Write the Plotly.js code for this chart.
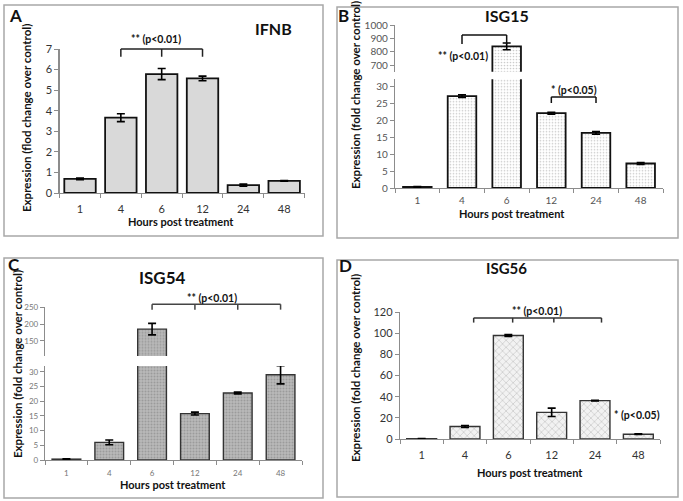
<!DOCTYPE html>
<html>
<head>
<meta charset="utf-8">
<script src="https://cdn.plot.ly/plotly-3.0.1.min.js"></script>
<style>html,body{margin:0;padding:0;background:#fff;}#chart{width:683px;height:501px;}</style>
</head>
<body>
<div id="chart"></div>
<script>
// ---------- data ----------
var hours = ['1', '4', '6', '12', '24', '48'];
var ifnb = [0.69, 3.66, 5.78, 5.57, 0.38, 0.59];
var ifnbErr = [0.04, 0.19, 0.27, 0.11, 0.05, 0.02];
var isg15 = [0.3, 27.0, 840, 22.0, 16.2, 7.2];
var isg15Err = [0.15, 0.4, 25, 0.3, 0.4, 0.3];
var isg54 = [0.3, 6.0, 185, 15.8, 22.8, 29.0];
var isg54Err = [0.1, 0.8, 17, 0.5, 0.3, 3.1];
var isg56 = [0.3, 11.8, 97.8, 25.2, 36.3, 4.5];
var isg56Err = [0.2, 1.0, 0.8, 4.0, 0.3, 0.3];

// ---------- helpers ----------
var FONT = 'Lato, "Open Sans", "DejaVu Sans", sans-serif';
var idx = hours.map(function (h, i) { return i; });

function barTrace(vals, errs, xa, ya, width, marker, errColor) {
  return {
    type: 'bar', x: idx, y: vals, xaxis: xa, yaxis: ya, width: width,
    marker: marker, hoverinfo: 'skip',
    error_y: { type: 'data', array: errs, visible: true, color: errColor || '#000', thickness: 1.6, width: 4 }
  };
}
function xAxis(dom, anchor, fs, col, tl) {
  return {
    domain: dom, anchor: anchor, range: [-0.5, 5.5], tickmode: 'array', tickvals: idx, ticktext: hours,
    ticks: 'outside', ticklen: tl, tickcolor: 'rgba(0,0,0,0)', showgrid: false, zeroline: false,
    showline: true, linecolor: '#8c8c8c', linewidth: 1.2, fixedrange: true,
    tickfont: { family: FONT, size: fs, color: col },
    minor: { tickmode: 'linear', tick0: -0.5, dtick: 1, ticks: 'outside', ticklen: 4, tickcolor: '#8c8c8c', tickwidth: 1 }
  };
}
function yAxis(dom, anchor, range, tickvals, fs, col) {
  return {
    domain: dom, anchor: anchor, range: range, tickmode: 'array', tickvals: tickvals,
    ticks: 'outside', ticklen: 4, tickcolor: '#8c8c8c', showgrid: false, zeroline: false,
    showline: true, linecolor: '#8c8c8c', linewidth: 1.2, fixedrange: true,
    tickfont: { family: FONT, size: fs, color: col }
  };
}
function frac(v, r) { return (v - r[0]) / (r[1] - r[0]); }
function bracket(xref, yref, range, xs, yLine, yTick, color) {
  var out = [];
  var yL = frac(yLine, range), yT = frac(yTick, range);
  var ln = { color: color, width: 1.5 };
  out.push({ type: 'line', xref: xref, yref: yref + ' domain', x0: xs[0], x1: xs[xs.length - 1], y0: yL, y1: yL, line: ln });
  xs.forEach(function (x) {
    out.push({ type: 'line', xref: xref, yref: yref + ' domain', x0: x, x1: x, y0: yL, y1: yT, line: ln });
  });
  return out;
}
function sig(text, xref, yref, range, x, y, xanchor) {
  return { text: '<b>' + text + '</b>', xref: xref, yref: yref + ' domain', x: x, y: frac(y, range),
    xanchor: xanchor || 'center', yanchor: 'middle', showarrow: false,
    font: { family: FONT, size: 10.5, color: '#111' } };
}
function ann(text, x, y, size, opts) {
  var a = { text: text, x: x, y: y, xref: 'paper', yref: 'paper', showarrow: false,
    xanchor: 'center', yanchor: 'middle', font: { family: FONT, size: size, color: '#111' } };
  for (var k in opts) a[k] = opts[k];
  return a;
}
function px(x) { return x / 683; }
function py(y) { return 1 - y / 501; }

// ---------- ranges ----------
var rA = [0, 7];
var rBlo = [0, 32], rBhi = [650, 1000];
var rClo = [0, 32], rChi = [105, 250];
var rD = [0, 120];

// ---------- traces ----------
var mA = { color: '#d9d9d9', line: { color: '#111', width: 1.8 } };
var mB = { color: '#ffffff', line: { color: '#111', width: 1.8 },
  pattern: { shape: '.', fgcolor: '#9a9a9a', bgcolor: '#ffffff', size: 3, solidity: 0.25, fillmode: 'overlay' } };
var mC = { color: '#b5b5b5', line: { color: '#333', width: 1.4 },
  pattern: { shape: '.', fgcolor: '#7d7d7d', bgcolor: '#b9b9b9', size: 3, solidity: 0.35, fillmode: 'overlay' } };
var mD = { color: '#eeeeee', line: { color: '#333', width: 1.4 },
  pattern: { shape: 'x', fgcolor: '#9a9a9a', bgcolor: '#f2f2f2', size: 5, solidity: 0.25, fillmode: 'overlay' } };

var data = [
  barTrace(ifnb, ifnbErr, 'x', 'y', 0.77, mA),
  barTrace(isg15, isg15Err, 'x2', 'y2', 0.64, mB),
  barTrace(isg15, isg15Err, 'x2', 'y3', 0.64, mB),
  barTrace(isg54, isg54Err, 'x3', 'y4', 0.67, mC),
  barTrace(isg54, isg54Err, 'x3', 'y5', 0.67, mC),
  barTrace(isg56, isg56Err, 'x4', 'y6', 0.69, mD)
];

// ---------- shapes ----------
var boxLine = { color: '#a8a8a8', width: 1.5 };
var shapes = [
  { type: 'rect', xref: 'paper', yref: 'paper', x0: px(4), x1: px(323), y0: py(236), y1: py(5), line: boxLine },
  { type: 'rect', xref: 'paper', yref: 'paper', x0: px(337), x1: px(678), y0: py(238), y1: py(7), line: boxLine },
  { type: 'rect', xref: 'paper', yref: 'paper', x0: px(4), x1: px(323), y0: py(498), y1: py(258), line: boxLine },
  { type: 'rect', xref: 'paper', yref: 'paper', x0: px(337), x1: px(678), y0: py(497), y1: py(260), line: boxLine }
];
shapes = shapes
  .concat(bracket('x', 'y', rA, [1, 2, 3], 7.0, 6.62, '#222'))
  .concat(bracket('x2', 'y3', rBhi, [1, 2], 925, 857, '#111'))
  .concat(bracket('x2', 'y2', rBlo, [3, 4], 26.8, 25.0, '#111'))
  .concat(bracket('x3', 'y5', rChi, [2, 3, 4, 5], 259, 243, '#444'))
  .concat(bracket('x4', 'y6', rD, [1.2, 2.1, 3.05, 4.15], 114.4, 110, '#333'));

// ---------- annotations ----------
var YT = 11.5;
var annotations = [
  ann('<b>A</b>', px(15), py(16), 17, {}),
  ann('<b>B</b>', px(343), py(15), 17, {}),
  ann('<b>C</b>', px(14), py(264), 17, {}),
  ann('<b>D</b>', px(345), py(265), 17, {}),
  ann('<b>IFNB</b>', px(273), py(28), 16, {}),
  ann('<b>ISG15</b>', px(507), py(15), 16, {}),
  ann('<b>ISG54</b>', px(162), py(277), 17, {}),
  ann('<b>ISG56</b>', px(506), py(268), 15, {}),
  ann('<b>Expression (flod change over control)</b>', px(26), py(118), YT, { textangle: -90 }),
  ann('<b>Expression (fold change over control)</b>', px(355), py(95), YT, { textangle: -90 }),
  ann('<b>Expression (fold change over control)</b>', px(17), py(364), YT, { textangle: -90 }),
  ann('<b>Expression (fold change over control)</b>', px(355), py(368), YT, { textangle: -90 }),
  ann('<b>Hours post treatment</b>', px(181), py(221), 11, {}),
  ann('<b>Hours post treatment</b>', px(512), py(214), 11, {}),
  ann('<b>Hours post treatment</b>', px(173), py(484), 11, {}),
  ann('<b>Hours post treatment</b>', px(530), py(472), 11, {}),
  // significance labels (positioned from data values)
  sig('** (p<0.01)', 'x', 'y', rA, 1.85, 7.48),
  sig('** (p<0.01)', 'x2', 'y3', rBhi, 1.63, 767, 'right'),
  sig('* (p<0.05)', 'x2', 'y2', rBlo, 3.5, 28.9),
  sig('** (p<0.01)', 'x3', 'y5', rChi, 3.4, 279),
  sig('** (p<0.01)', 'x4', 'y6', rD, 2.67, 121),
  sig('* (p<0.05)', 'x4', 'y6', rD, 4.97, 22.7)
];

var layout = {
  width: 683, height: 501, margin: { l: 0, r: 0, t: 0, b: 0 },
  paper_bgcolor: '#fff', plot_bgcolor: 'rgba(0,0,0,0)', showlegend: false, bargap: 0.3,
  xaxis: xAxis([px(59.6), px(304.6)], 'y', 11, '#333', 6),
  yaxis: yAxis([py(193), py(49)], 'x', rA, [0, 1, 2, 3, 4, 5, 6, 7], 11, '#333'),
  xaxis2: xAxis([px(395), px(663)], 'y2', 10, '#555', 3),
  yaxis2: yAxis([py(188), py(79.2)], 'x2', rBlo, [0, 5, 10, 15, 20, 25, 30], 10, '#555'),
  yaxis3: yAxis([py(71.7), py(25)], 'x2', rBhi, [700, 800, 900, 1000], 10, '#555'),
  xaxis3: xAxis([px(45), px(302)], 'y4', 8, '#777', 5),
  yaxis4: yAxis([py(460), py(366)], 'x3', rClo, [0, 5, 10, 15, 20, 25, 30], 8, '#777'),
  yaxis5: yAxis([py(356), py(307.3)], 'x3', rChi, [150, 200, 250], 8, '#777'),
  xaxis4: xAxis([px(400), px(660)], 'y6', 11, '#333', 6),
  yaxis6: yAxis([py(439), py(312)], 'x4', rD, [0, 20, 40, 60, 80, 100, 120], 11, '#333'),
  shapes: shapes,
  annotations: annotations
};

Plotly.newPlot('chart', data, layout, { displayModeBar: false, staticPlot: true });
</script>
</body>
</html>
